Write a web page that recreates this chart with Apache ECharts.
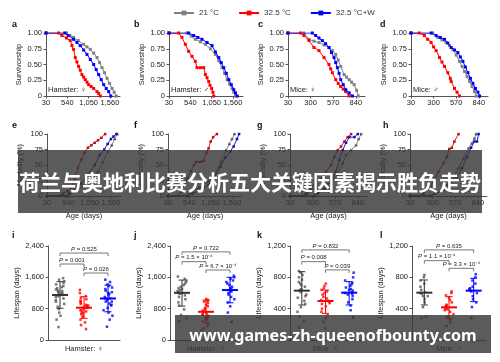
<!DOCTYPE html>
<html><head><meta charset="utf-8">
<script src="https://cdn.jsdelivr.net/npm/echarts@6/dist/echarts.min.js"></script>
<style>html,body{margin:0;padding:0;background:#fff}#c{width:500px;height:362px}</style>
</head><body><div id="c"></div>
<script>
// ---------------- DATA ----------------
const seriesNames = ['21 °C', '32.5 °C', '32.5 °C+W'];
const groupCats = ['21 °C', '32.5 °C', '32.5 °C+W'];

const survXTicksHam = [30, 540, 1050, 1560];
const survXTicksMice = [30, 300, 570, 840];
const survYTicks = [0, 0.25, 0.5, 0.75, 1];
const mortYTicks = [0, 25, 50, 75, 100];
const lifeYTicksHam = [0, 800, 1600, 2400];
const lifeYTicksMice = [0, 400, 800, 1200];

// a: Hamster female survivorship
const survA21 = [[30,1],[520,1],[600,0.96],[690,0.93],[800,0.88],[930,0.82],[1010,0.78],[1090,0.74],[1170,0.68],[1250,0.61],[1310,0.53],[1370,0.45],[1430,0.37],[1490,0.28],[1550,0.2],[1610,0.12],[1660,0.06],[1710,0]];
const survA32 = [[30,1],[330,1],[410,0.96],[520,0.92],[610,0.88],[650,0.8],[690,0.74],[730,0.61],[770,0.54],[810,0.47],[850,0.41],[890,0.34],[930,0.3],[970,0.26],[1010,0.22],[1050,0.18],[1110,0.15],[1170,0.12],[1250,0.07],[1290,0.04],[1330,0]];
const survA32W = [[30,1],[480,1],[560,0.96],[690,0.9],[770,0.85],[850,0.8],[930,0.73],[1010,0.66],[1090,0.58],[1170,0.5],[1230,0.42],[1290,0.34],[1350,0.26],[1410,0.18],[1470,0.12],[1530,0.07],[1580,0]];
// b: Hamster male survivorship
const survB21 = [[30,1],[460,1],[560,0.95],[660,0.9],[780,0.86],[900,0.82],[1020,0.75],[1140,0.66],[1220,0.56],[1300,0.45],[1360,0.36],[1420,0.26],[1480,0.19],[1540,0.12],[1580,0.06],[1620,0]];
const survB32 = [[30,1],[260,1],[340,0.93],[420,0.82],[500,0.71],[580,0.63],[660,0.55],[700,0.45],[780,0.45],[860,0.45],[900,0.34],[940,0.29],[980,0.23],[1010,0.17],[1050,0.12],[1080,0.06],[1100,0]];
const survB32W = [[30,1],[500,1],[620,0.96],[720,0.93],[820,0.9],[940,0.85],[1060,0.8],[1140,0.7],[1220,0.61],[1280,0.53],[1340,0.45],[1400,0.36],[1460,0.26],[1520,0.18],[1580,0.1],[1620,0.05],[1660,0]];
// c: Mice female survivorship
const survC21 = [[30,1],[220,1],[280,0.9],[340,0.87],[400,0.85],[460,0.81],[520,0.77],[560,0.72],[600,0.66],[630,0.57],[660,0.47],[700,0.34],[730,0.3],[760,0.26],[790,0.22],[820,0.18],[850,0.09],[870,0]];
const survC32 = [[30,1],[180,1],[220,0.96],[280,0.88],[340,0.77],[400,0.72],[460,0.61],[520,0.5],[540,0.43],[560,0.37],[600,0.26],[630,0.2],[660,0.15],[690,0.11],[720,0.07],[760,0]];
const survC32W = [[30,1],[320,1],[360,0.96],[400,0.92],[440,0.88],[480,0.83],[520,0.77],[550,0.69],[580,0.61],[600,0.53],[620,0.45],[640,0.36],[660,0.26],[690,0.18],[720,0.1],[760,0.05],[800,0]];
// d: Mice male survivorship
const survD21 = [[30,1],[290,1],[350,0.93],[400,0.89],[450,0.85],[490,0.8],[530,0.74],[570,0.65],[610,0.55],[640,0.47],[670,0.39],[700,0.31],[730,0.23],[760,0.15],[790,0.07],[810,0]];
const survD32 = [[30,1],[130,1],[190,0.96],[230,0.9],[270,0.85],[300,0.78],[330,0.72],[370,0.61],[400,0.54],[430,0.47],[470,0.37],[500,0.28],[510,0.23],[550,0.12],[580,0.06],[610,0]];
const survD32W = [[30,1],[270,1],[330,0.96],[380,0.93],[430,0.9],[470,0.84],[510,0.77],[550,0.73],[590,0.69],[620,0.62],[650,0.55],[680,0.46],[710,0.37],[740,0.28],[770,0.2],[800,0.12],[830,0.06],[850,0]];

// e-h: mortality (%)
const mortE21 = [[30,0],[520,0],[690,7],[930,18],[1090,26],[1250,39],[1370,55],[1490,72],[1580,82],[1650,92],[1710,100]];
const mortE32 = [[30,0],[330,0],[410,4],[520,8],[610,12],[690,26],[770,46],[850,59],[930,70],[1010,78],[1090,82],[1170,86],[1250,90],[1330,94],[1420,100]];
const mortE32W = [[30,0],[480,0],[560,4],[690,10],[850,20],[1010,34],[1170,50],[1290,66],[1400,75],[1480,84],[1560,92],[1620,96],[1690,100]];
const mortF21 = [[30,0],[460,0],[560,5],[780,14],[1000,24],[1140,34],[1300,55],[1420,74],[1500,84],[1560,92],[1620,100]];
const mortF32 = [[30,0],[260,0],[340,7],[420,18],[500,29],[580,40],[650,50],[700,55],[800,55],[880,57],[950,70],[1000,77],[1050,88],[1110,95],[1200,100]];
const mortF32W = [[30,0],[500,0],[620,4],[820,10],[1000,18],[1140,30],[1280,47],[1400,62],[1520,72],[1600,80],[1680,92],[1730,100]];
const mortG21 = [[30,0],[220,0],[280,10],[400,15],[520,23],[600,34],[660,53],[700,66],[760,74],[820,82],[850,92],[880,100]];
const mortG32 = [[30,0],[180,0],[220,4],[280,12],[340,23],[400,28],[460,39],[520,50],[560,63],[600,74],[640,80],[680,88],[720,95],[760,100]];
const mortG32W = [[30,0],[320,0],[360,4],[440,12],[520,23],[580,40],[620,58],[660,74],[700,86],[740,95],[800,95],[840,100]];
const mortH21 = [[30,0],[290,0],[350,7],[450,15],[530,26],[610,45],[670,61],[730,77],[770,85],[800,93],[820,100]];
const mortH32 = [[30,0],[130,0],[190,4],[270,15],[330,28],[370,39],[430,53],[470,63],[500,76],[530,78],[560,88],[610,100]];
const mortH32W = [[30,0],[270,0],[330,4],[430,10],[510,23],[590,31],[650,45],[710,63],[760,78],[800,88],[830,88],[850,100]];

// i-l: lifespan (days) individual points
const lifeI21 = [330,520,620,700,790,850,920,980,1020,1060,1100,1120,1150,1180,1200,1230,1260,1290,1320,1350,1380,1420,1460,1500,1540,1580,1250,1150];
const lifeI32 = [280,380,450,520,580,620,660,700,730,760,790,820,840,860,880,900,920,950,980,1010,1040,1080,1120,1200,1280,820,760,700,880];
const lifeI32W = [340,520,620,700,760,820,880,930,980,1020,1060,1100,1140,1180,1220,1260,1300,1340,1380,1420,1480,1540,1060,980,900,1200];
const lifeJ21 = [480,560,640,780,880,960,1040,1100,1140,1180,1200,1220,1250,1280,1320,1360,1400,1440,1480,1520,1560,1620,1200,1300];
const lifeJ32 = [250,300,360,420,480,520,560,600,630,660,690,720,750,780,820,860,900,940,980,1000,1020,1050,700,640,560];
const lifeJ32W = [460,700,860,960,1040,1100,1160,1200,1240,1280,1320,1360,1400,1440,1480,1520,1560,1600,1640,1300,1250];
const lifeK21 = [160,240,300,360,420,460,500,540,580,610,630,650,680,700,720,740,770,800,830,860,880,640,560];
const lifeK32 = [150,230,280,320,360,400,430,460,490,510,530,550,580,600,620,640,660,690,720,500,470];
const lifeK32W = [290,380,440,480,520,560,590,610,630,650,670,690,710,730,760,800,860,600,580,640];
const lifeL21 = [280,300,420,480,520,560,590,610,640,680,720,760,800,830,600,560];
const lifeL32 = [180,220,260,300,330,360,390,410,430,450,480,510,540,570,600,620,400,380,440];
const lifeL32W = [280,420,480,520,560,600,620,640,660,680,720,760,800,840,650,630];

// mean and SD bounds per group [21, 32.5, 32.5+W]
const meanI = [1150, 825, 1060], sdLoI = [810, 555, 720], sdHiI = [1490, 1105, 1400];
const meanJ = [1205, 720, 1275], sdLoJ = [865, 435, 950], sdHiJ = [1530, 1020, 1600];
const meanK = [630, 498, 604], sdLoK = [447, 340, 447], sdHiK = [872, 638, 745];
const meanL = [604, 417, 630], sdLoL = [447, 277, 489], sdHiL = [766, 553, 788];

// significance brackets: [fromGroup, toGroup, yValue]
const brkI = [[0,2,2220],[0,1,1940],[1,2,1710]];
const brkJ = [[0,2,2250],[0,1,2000],[1,2,1787]];
const brkK = [[0,2,1150],[0,1,1000],[1,2,895]];
const brkL = [[0,2,1150],[0,1,1013],[1,2,915]];
const pI = ['{i|P} = 0.525', '{i|P} = 0.001', '{i|P} = 0.026'];
const pJ = ['{i|P} = 0.722', '{i|P} = 1.5 × 10⁻⁴', '{i|P} = 6.7 × 10⁻⁴'];
const pK = ['{i|P} = 0.832', '{i|P} = 0.008', '{i|P} = 0.039'];
const pL = ['{i|P} = 0.635', '{i|P} = 1.1 × 10⁻⁴', '{i|P} = 3.3 × 10⁻⁴'];

// ---------------- STYLE / LAYOUT ----------------
const FONT = '"Liberation Sans", Arial, sans-serif';
const TXT = '#222';
const AX = '#555';
const colors = ['#808080', '#ff0000', '#0000ff'];
const barColors = ['#333333', '#ff0000', '#0000ff'];
const gradStops = [['#9a9a9a', '#2a2a2a'], ['#ff1a1a', '#700000'], ['#2020ff', '#00006e']];

const grids = [], xAxes = [], yAxes = [], series = [], titles = [];

function fmt(v) { return v.toLocaleString('en-US'); }

function lineAxes(gi, max, xt, yName, yTicks, yFmt, xName) {
  xAxes.push({
    gridIndex: gi, type: 'value', min: 30, max: max,
    axisLine: { show: true, onZero: false, lineStyle: { color: AX } },
    axisTick: { show: true, length: 2.5, customValues: xt, lineStyle: { color: AX } },
    axisLabel: { fontSize: 7.5, color: TXT, margin: 3, fontFamily: FONT, customValues: xt, formatter: fmt },
    splitLine: { show: false },
    name: xName || '', nameLocation: 'middle', nameGap: 16,
    nameTextStyle: { fontSize: 7.5, color: TXT, fontFamily: FONT }
  });
  yAxes.push({
    gridIndex: gi, type: 'value', min: yTicks[0], max: yTicks[yTicks.length - 1],
    interval: yTicks[1] - yTicks[0],
    axisLine: { show: true, lineStyle: { color: AX } },
    axisTick: { show: true, length: 2.5, lineStyle: { color: AX } },
    axisLabel: { fontSize: 7.5, color: TXT, margin: 4, fontFamily: FONT, formatter: yFmt },
    splitLine: { show: false },
    name: yName, nameLocation: 'middle', nameGap: 23,
    nameTextStyle: { fontSize: 7.5, color: TXT, fontFamily: FONT }
  });
}

const survPanels = [
  { left: 46, width: 74, max: 1800, xt: survXTicksHam, d: [survA21, survA32, survA32W], lab: 'Hamster: ♀', letter: 'a', lx: 12 },
  { left: 169, width: 74, max: 1800, xt: survXTicksHam, d: [survB21, survB32, survB32W], lab: 'Hamster: ♂', letter: 'b', lx: 134 },
  { left: 288, width: 77, max: 950, xt: survXTicksMice, d: [survC21, survC32, survC32W], lab: 'Mice: ♀', letter: 'c', lx: 258 },
  { left: 411, width: 77, max: 950, xt: survXTicksMice, d: [survD21, survD32, survD32W], lab: 'Mice: ♂', letter: 'd', lx: 380 }
];
const mortPanels = [
  { left: 47, width: 74, max: 1800, xt: survXTicksHam, d: [mortE21, mortE32, mortE32W], letter: 'e', lx: 12 },
  { left: 168, width: 74, max: 1800, xt: survXTicksHam, d: [mortF21, mortF32, mortF32W], letter: 'f', lx: 134 },
  { left: 290, width: 77, max: 950, xt: survXTicksMice, d: [mortG21, mortG32, mortG32W], letter: 'g', lx: 257 },
  { left: 410, width: 77, max: 950, xt: survXTicksMice, d: [mortH21, mortH32, mortH32W], letter: 'h', lx: 383 }
];
const lifePanels = [
  { left: 48, width: 72, yt: lifeYTicksHam, d: [lifeI21, lifeI32, lifeI32W], m: meanI, lo: sdLoI, hi: sdHiI, brk: brkI, p: pI, lab: 'Hamster: ♀', letter: 'i', lx: 12 },
  { left: 170, width: 72, yt: lifeYTicksHam, d: [lifeJ21, lifeJ32, lifeJ32W], m: meanJ, lo: sdLoJ, hi: sdHiJ, brk: brkJ, p: pJ, lab: 'Hamster: ♂', letter: 'j', lx: 134 },
  { left: 290, width: 71, yt: lifeYTicksMice, d: [lifeK21, lifeK32, lifeK32W], m: meanK, lo: sdLoK, hi: sdHiK, brk: brkK, p: pK, lab: 'Mice: ♀', letter: 'k', lx: 257 },
  { left: 412, width: 74, yt: lifeYTicksMice, d: [lifeL21, lifeL32, lifeL32W], m: meanL, lo: sdLoL, hi: sdHiL, brk: brkL, p: pL, lab: 'Mice: ♂', letter: 'l', lx: 380 }
];

function letterTitle(t, x, y) {
  titles.push({ text: t, left: x, top: y, padding: 0, textStyle: { fontSize: 9, fontWeight: 'bold', color: '#111', fontFamily: FONT } });
}

// survival panels
survPanels.forEach(p => {
  const gi = grids.length;
  grids.push({ left: p.left, top: 33, width: p.width, height: 63 });
  lineAxes(gi, p.max, p.xt, 'Survivorship', survYTicks, v => v === 0 ? '0' : v.toFixed(2));
  p.d.forEach((arr, k) => {
    series.push({
      type: 'line', name: seriesNames[k], xAxisIndex: gi, yAxisIndex: gi, data: arr,
      symbol: 'rect', symbolSize: 3, z: k === 0 ? 2 : 3,
      lineStyle: { color: colors[k], width: 1 }, itemStyle: { color: colors[k] }
    });
  });
  letterTitle(p.letter, p.lx, 20);
  titles.push({ text: p.lab, left: p.left + 2, top: 86, padding: 0, textStyle: { fontSize: 7.5, fontWeight: 'normal', color: TXT, fontFamily: FONT } });
});

// mortality panels
mortPanels.forEach(p => {
  const gi = grids.length;
  grids.push({ left: p.left, top: 134, width: p.width, height: 62 });
  lineAxes(gi, p.max, p.xt, 'Mortality (%)', mortYTicks, v => String(v), 'Age (days)');
  p.d.forEach((arr, k) => {
    const grad = { type: 'linear', x: 0, y: 0, x2: 0, y2: 1, colorStops: [{ offset: 0, color: gradStops[k][0] }, { offset: 1, color: gradStops[k][1] }] };
    series.push({
      type: 'line', name: seriesNames[k], xAxisIndex: gi, yAxisIndex: gi, data: arr,
      symbol: 'rect', symbolSize: 2.5, z: k === 0 ? 2 : 3,
      lineStyle: { color: grad, width: 1 }, itemStyle: { color: grad }
    });
  });
  letterTitle(p.letter, p.lx, 121);
});

function errRender(params, api) {
  const c = api.value(0), m = api.value(1), lo = api.value(2), hi = api.value(3);
  const pm = api.coord([c, m]), pl = api.coord([c, lo]), ph = api.coord([c, hi]);
  const col = api.visual('color');
  return { type: 'group', children: [
    { type: 'line', shape: { x1: pm[0] - 8, y1: pm[1], x2: pm[0] + 8, y2: pm[1] }, style: { stroke: col, lineWidth: 2 } },
    { type: 'line', shape: { x1: pl[0], y1: pl[1], x2: ph[0], y2: ph[1] }, style: { stroke: col, lineWidth: 1 } },
    { type: 'line', shape: { x1: pl[0] - 3.5, y1: pl[1], x2: pl[0] + 3.5, y2: pl[1] }, style: { stroke: col, lineWidth: 1 } },
    { type: 'line', shape: { x1: ph[0] - 3.5, y1: ph[1], x2: ph[0] + 3.5, y2: ph[1] }, style: { stroke: col, lineWidth: 1 } }
  ] };
}
function makeBracket(labels) {
  return function (params, api) {
    const x1 = api.value(0), x2 = api.value(1), y = api.value(2);
    const p1 = api.coord([x1, y]), p2 = api.coord([x2, y]);
    return { type: 'group', children: [
      { type: 'polyline', shape: { points: [[p1[0], p1[1] + 3], [p1[0], p1[1]], [p2[0], p2[1]], [p2[0], p2[1] + 3]] }, style: { stroke: '#555', fill: null, lineWidth: 0.8 } },
      { type: 'text', x: (p1[0] + p2[0]) / 2, y: p1[1] - 1, style: {
        text: labels[params.dataIndex], fontSize: 6, fill: TXT, fontFamily: FONT,
        align: 'center', verticalAlign: 'bottom', textAlign: 'center', textVerticalAlign: 'bottom',
        rich: { i: { fontStyle: 'italic', fontSize: 6, fill: TXT, fontFamily: FONT } } } }
    ] };
  };
}

// lifespan panels
lifePanels.forEach(p => {
  const gi = grids.length;
  grids.push({ left: p.left, top: 246, width: p.width, height: 94 });
  xAxes.push({
    gridIndex: gi, type: 'category', data: groupCats, jitter: 9, jitterOverlap: true,
    axisLine: { show: true, lineStyle: { color: AX } }, axisTick: { show: false }, axisLabel: { show: false },
    name: p.lab, nameLocation: 'middle', nameGap: 5,
    nameTextStyle: { fontSize: 7.5, color: TXT, fontFamily: FONT }
  });
  yAxes.push({
    gridIndex: gi, type: 'value', min: p.yt[0], max: p.yt[p.yt.length - 1], interval: p.yt[1] - p.yt[0],
    axisLine: { show: true, lineStyle: { color: AX } },
    axisTick: { show: true, length: 2.5, lineStyle: { color: AX } },
    axisLabel: { fontSize: 7.5, color: TXT, margin: 4, fontFamily: FONT, formatter: fmt },
    splitLine: { show: false },
    name: 'Lifespan (days)', nameLocation: 'middle', nameGap: 26,
    nameTextStyle: { fontSize: 7.5, color: TXT, fontFamily: FONT }
  });
  p.d.forEach((arr, k) => {
    series.push({
      type: 'scatter', name: seriesNames[k], xAxisIndex: gi, yAxisIndex: gi,
      data: arr.map(v => [k, v]), symbol: 'rect', symbolSize: 2.5,
      itemStyle: { color: k === 0 ? '#555' : colors[k] }
    });
  });
  series.push({
    type: 'custom', xAxisIndex: gi, yAxisIndex: gi, renderItem: errRender, z: 5,
    encode: { x: 0, y: [1, 2, 3] },
    data: p.m.map((m, k) => ({ value: [k, m, p.lo[k], p.hi[k]], itemStyle: { color: barColors[k] } }))
  });
  series.push({
    type: 'custom', xAxisIndex: gi, yAxisIndex: gi, renderItem: makeBracket(p.p), z: 5,
    encode: { x: [0, 1], y: 2 }, data: p.brk
  });
  letterTitle(p.letter, p.lx, 231);
});

const option = {
  animation: false,
  backgroundColor: '#fff',
  textStyle: { fontFamily: FONT },
  title: titles,
  legend: {
    data: seriesNames, left: 168, top: 4, itemWidth: 20, itemHeight: 6, itemGap: 19,
    textStyle: { fontSize: 8, color: '#333', fontFamily: FONT }
  },
  grid: grids, xAxis: xAxes, yAxis: yAxes, series: series,
  graphic: [
    { type: 'rect', z: 100, shape: { x: 18, y: 150, width: 464, height: 63 }, style: { fill: 'rgba(55,55,55,0.82)' } },
    { type: 'text', z: 101, x: 250, y: 182, style: {
      text: '荷兰与奥地利比赛分析五大关键因素揭示胜负走势', fill: '#ffffff',
      font: 'bold 21px "Noto Sans CJK SC"', fontSize: 21, fontWeight: 'bold', fontFamily: '"Noto Sans CJK SC"',
      align: 'center', verticalAlign: 'middle', textAlign: 'center', textVerticalAlign: 'middle' } },
    { type: 'rect', z: 100, shape: { x: 175, y: 315, width: 316, height: 38 }, style: { fill: 'rgba(55,55,55,0.82)' } },
    { type: 'text', z: 101, x: 333, y: 336, style: {
      text: 'www.games-zh-queenofbounty.com', fill: '#ffffff',
      font: 'bold 16px "Noto Sans"', fontSize: 16, fontWeight: 'bold', fontFamily: '"Noto Sans"',
      align: 'center', verticalAlign: 'middle', textAlign: 'center', textVerticalAlign: 'middle' } }
  ]
};

const chart = echarts.init(document.getElementById('c'), null, { renderer: 'canvas' });
chart.setOption(option);
</script></body></html>
